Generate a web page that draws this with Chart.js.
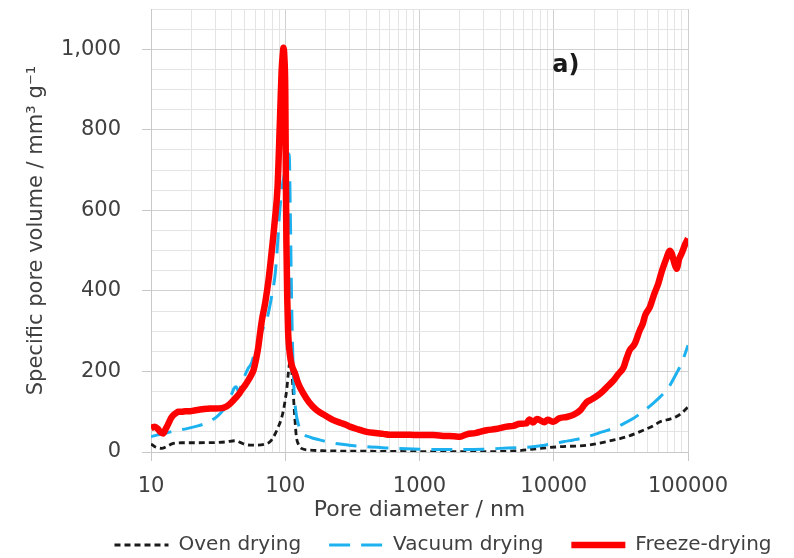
<!DOCTYPE html>
<html>
<head>
<meta charset="utf-8">
<script src="https://cdn.jsdelivr.net/npm/chart.js@4/dist/chart.umd.min.js"></script>
<style>
	html, body { margin: 0; padding: 0; background: #fff; }
</style>
</head>
<body>
<canvas id="pores" width="794" height="558"></canvas>
<script>
// pore size distributions, diameter in nm / volume in mm3 g-1
const ovenD = [10, 10.7, 12, 13, 14.3, 16.9, 22.5, 30, 36, 42.3, 46, 50, 55, 60, 70, 76, 80, 85, 89, 93, 97, 100, 102.5, 105, 107, 109, 111, 113, 115, 117, 119, 121, 125, 132, 150, 200, 400, 1000, 3000, 5300, 7900, 11000, 17800, 24900, 35000, 46500, 55000, 62000, 70000, 82300, 90000, 100000];
const ovenV = [20, 13, 9, 13, 20, 23, 23, 23.5, 25, 28, 24, 19, 17, 17, 19, 24, 32, 48, 63, 80, 104, 130, 154, 190, 215, 232, 215, 180, 140, 100, 65, 38, 20, 9, 5, 3, 2, 1, 1, 3, 9, 13, 17, 26, 38, 54, 65, 75, 80, 88, 97, 112];

const vacuumD = [10, 11, 12.7, 14, 16, 18.5, 21.3, 25, 28.3, 31, 33.7, 36, 38, 40, 41.5, 43, 45, 47.3, 50, 53, 56, 59, 63, 67, 73, 79, 84, 87, 91, 95, 100, 104, 107, 109, 111, 113, 116, 120, 125, 132, 153, 180, 228, 300, 400, 600, 800, 1000, 2000, 3000, 4000, 5500, 7000, 8500, 10000, 12000, 14000, 17000, 19500, 23000, 28000, 33000, 39000, 46000, 55000, 62000, 70000, 82000, 90000, 100000];
const vacuumV = [38, 42, 46, 50, 54, 58, 63, 70, 79, 88, 100, 112, 130, 145, 158, 162, 150, 170, 190, 208, 220, 245, 268, 300, 330, 384, 440, 500, 600, 660, 700, 730, 740, 600, 420, 280, 160, 100, 70, 50, 37, 30, 22, 17, 13, 10, 8, 7, 6, 7, 9, 11, 13, 17, 21, 26, 30, 36, 42, 50, 59, 70, 83, 100, 121, 137, 155, 195, 222, 265];

const freezeD = [10, 10.4, 10.7, 11.2, 11.7, 12.3, 12.9, 13.5, 14.1, 14.7, 15.4, 16, 17, 18, 19, 21, 24, 27.6, 30, 33.7, 36, 37.6, 40, 42.3, 45, 47.3, 50, 53, 56, 58, 61, 63, 65, 67, 71, 75, 79, 83.6, 87.6, 91.3, 94, 96, 97, 98.5, 100, 101, 102, 103.5, 105, 108, 112, 118, 125, 136, 150, 171, 200, 228, 260, 286, 303, 350, 404, 470, 536, 600, 700, 850, 1000, 1270, 1500, 1800, 2000, 2250, 2600, 3160, 3700, 4450, 5000, 5600, 6250, 6600, 7000, 7500, 7900, 8500, 9000, 9950, 11000, 12500, 14000, 15800, 17000, 17800, 19500, 22200, 25000, 27900, 30000, 33200, 34500, 36800, 40000, 43700, 46000, 48000, 52000, 56000, 60000, 64000, 69600, 73000, 75700, 79000, 82300, 86000, 89600, 95000, 100000];
const freezeV = [59, 62, 63, 58, 50, 46, 58, 71, 84, 92, 97, 100, 100, 101, 101, 103, 106, 108, 108, 109, 112, 116, 124, 133, 143, 154, 165, 178, 192, 203, 235, 261, 296, 327, 372, 426, 493, 575, 657, 823, 947, 990, 1004, 980, 900, 700, 520, 380, 300, 245, 215, 196, 170, 146, 124, 104, 90, 79, 72, 67, 63, 56, 50, 47, 45, 43, 43, 43, 42, 42, 40, 39, 38, 44, 47, 54, 57, 63, 65, 70, 71, 81, 73, 82, 79, 74, 80, 75, 84, 87, 92, 104, 118, 125, 132, 145, 162, 178, 192, 211, 228, 253, 268, 302, 318, 340, 360, 392, 418, 450, 484, 500, 493, 470, 455, 480, 493, 515, 530];

const seriesNames = ['Oven drying', 'Vacuum drying', 'Freeze-drying'];

// log axis: decades get a label, the 2..9 steps only a grid line
const xDecades = [10, 100, 1000, 10000, 100000];
const xGrid = [10, 20, 30, 40, 50, 60, 70, 80, 90, 100, 200, 300, 400, 500, 600, 700, 800, 900, 1000, 2000, 3000, 4000, 5000, 6000, 7000, 8000, 9000, 10000, 20000, 30000, 40000, 50000, 60000, 70000, 80000, 90000, 100000];
const yMax = 1100;
const yGridStep = 50;
const yLabelStep = 200;

const panelTag = 'a)';
const panelTagAt = [12300, 960];

const FONT = 'DejaVu Sans';
const TEXT = '#404040';

function toPoints(d, v) {
	return d.map((x, i) => ({ x: x, y: v[i] }));
}

function isDecade(v) {
	return xDecades.includes(v);
}

function isYLabel(v) {
	return v % yLabelStep === 0 && v <= 1000;
}

// writes the "a)" tag inside the plot
const panelTagPlugin = {
	id: 'panelTag',
	afterDraw(chart) {
		const ctx = chart.ctx;
		const x = chart.scales.x.getPixelForValue(panelTagAt[0]);
		const y = chart.scales.y.getPixelForValue(panelTagAt[1]);
		ctx.save();
		ctx.font = `bold 24px "${FONT}"`;
		ctx.fillStyle = '#1a1a1a';
		ctx.textAlign = 'center';
		ctx.textBaseline = 'middle';
		ctx.fillText(panelTag, x, y);
		ctx.restore();
	}
};

// legend sits a little right of centre and tucked under the axis title
// (only the top moves up, the bottom stays so the clip box still holds the row)
const legendPlacement = {
	id: 'legendPlacement',
	afterLayout(chart) {
		const lg = chart.legend;
		lg.left += 46;
		lg.right += 46;
		lg.top -= 26;
	}
};

// point-style legend items lose the dataset dash, put it back
function legendLabels(chart) {
	const items = Chart.defaults.plugins.legend.labels.generateLabels(chart);
	items.forEach(item => {
		const ds = chart.data.datasets[item.datasetIndex];
		item.lineDash = ds.borderDash || [];
		item.lineWidth = ds.borderWidth;
		item.lineCap = 'butt';
	});
	return items;
}

document.addEventListener('DOMContentLoaded', () => {
	Chart.defaults.font.family = FONT;
	Chart.defaults.color = TEXT;

	let data = {
		datasets: [{
			label: seriesNames[0],
			data: toPoints(ovenD, ovenV),
			borderColor: '#1a1a1a',
			backgroundColor: '#1a1a1a',
			borderWidth: 2.8,
			borderDash: [6, 4],
			order: 3
		}, {
			label: seriesNames[1],
			data: toPoints(vacuumD, vacuumV),
			borderColor: '#1db2ef',
			backgroundColor: '#1db2ef',
			borderWidth: 3,
			borderDash: [21, 11],
			order: 2
		}, {
			label: seriesNames[2],
			data: toPoints(freezeD, freezeV),
			borderColor: '#ff0000',
			backgroundColor: '#ff0000',
			borderWidth: 6.5,
			borderJoinStyle: 'round',
			order: 1
		}]
	};

	let xScaleConfig = {
		type: 'logarithmic',
		min: 10,
		max: 100000,
		afterBuildTicks: (scale) => {
			scale.ticks = xGrid.map(v => ({ value: v }));
		},
		afterFit: (scale) => {
			scale.height = 81;
			scale.paddingRight = 106;
		},
		ticks: {
			autoSkip: false,
			maxRotation: 0,
			padding: 13,
			font: { size: 21 },
			callback: (value) => isDecade(value) ? String(value) : ''
		},
		grid: {
			color: (c) => isDecade(c.tick.value) ? '#d0d0d0' : '#e4e4e4',
			tickColor: (c) => isDecade(c.tick.value) ? '#c8c8c8' : 'transparent',
			tickLength: 9
		},
		border: { color: '#c8c8c8' },
		title: {
			display: true,
			text: 'Pore diameter / nm',
			font: { size: 22 },
			padding: { top: 0, bottom: 10 }
		}
	};

	let yScaleConfig = {
		min: 0,
		max: yMax,
		afterFit: (scale) => {
			scale.width = 151;
			// labels stay inside the plot height, no extra room needed
			scale.paddingTop = 0;
			scale.paddingBottom = 0;
		},
		ticks: {
			stepSize: yGridStep,
			autoSkip: false,
			padding: 21,
			font: { size: 21 },
			callback: (value) => isYLabel(value) ? value.toLocaleString('en-US') : ''
		},
		grid: {
			color: (c) => isYLabel(c.tick.value) ? '#d0d0d0' : '#e4e4e4',
			tickColor: (c) => isYLabel(c.tick.value) ? '#c8c8c8' : 'transparent',
			tickLength: 9
		},
		border: { color: '#c8c8c8' },
		title: {
			display: true,
			text: 'Specific pore volume / mm³ g⁻¹',
			font: { size: 21 },
			padding: { top: 24, bottom: 0 }
		}
	};

	let config = {
		type: 'line',
		data: data,
		plugins: [panelTagPlugin, legendPlacement],
		options: {
			responsive: false,
			animation: false,
			layout: { padding: { top: 9, left: 0, right: 0, bottom: 0 } },
			elements: {
				point: { radius: 0 },
				line: { cubicInterpolationMode: 'monotone' }
			},
			scales: {
				x: xScaleConfig,
				y: yScaleConfig
			},
			plugins: {
				tooltip: { enabled: false },
				legend: {
					position: 'bottom',
					maxHeight: 25,
					labels: {
						usePointStyle: true,
						pointStyle: 'line',
						pointStyleWidth: 54,
						padding: 28,
						color: TEXT,
						font: { size: 20 },
						generateLabels: legendLabels,
						sort: (a, b) => a.datasetIndex - b.datasetIndex
					}
				}
			}
		}
	};

	new Chart(document.getElementById('pores').getContext('2d'), config);
});
</script>
</body>
</html>
